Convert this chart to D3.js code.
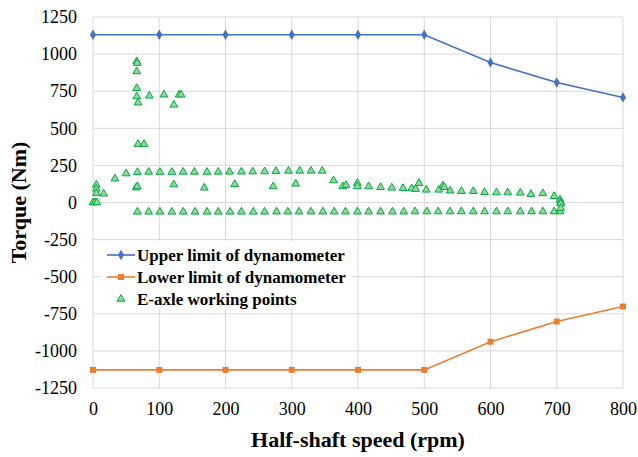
<!DOCTYPE html>
<html>
<head>
<meta charset="utf-8">
<script src="https://cdn.jsdelivr.net/npm/d3@7/dist/d3.min.js"></script>
<style>
  html, body { margin: 0; padding: 0; background: #fff; }
  svg { display: block; }
  svg text { font-family: "Liberation Serif", "Times New Roman", serif !important; }
</style>
</head>
<body>
<svg id="chart" width="638" height="457"></svg>
<script>
// ---- data ----
const limitSpeeds = [0, 100, 200, 300, 400, 500, 600, 700, 800];
const upperLimit = [1130, 1130, 1130, 1130, 1130, 1130, 943, 808, 707];
const lowerLimit = [-1128, -1128, -1128, -1128, -1128, -1128, -938, -802, -701];

const pointSpeeds = [
  0, 3, 6, 5, 5, 5, 16, 33, 50,
  67, 84, 101, 119, 136, 153, 172, 189, 206, 224, 241, 259, 276, 295, 312, 329, 346,
  363, 377, 382, 399, 399, 416, 434, 451, 468, 481, 487, 492, 503, 522, 528, 530, 539,
  556, 574, 591, 609, 626, 645, 661, 679, 696, 705, 706, 706,
  65, 67, 122, 168, 214, 272, 306,
  66, 67, 66, 66, 66, 85, 68, 107, 130, 133, 122, 68, 77,
  67, 84, 101, 119, 136, 154, 172, 189, 207, 224, 242, 259, 277, 294, 311, 329, 347,
  364, 381, 399, 416, 434, 452, 469, 486, 504, 521, 539, 556, 574, 591, 609, 626, 645,
  662, 679, 696, 705, 706
];
const pointTorques = [
  0, 0, 0, 119, 92, 63, 59, 160, 195,
  204, 206, 205, 205, 206, 206, 205, 206, 207, 207, 208, 209, 211, 213, 213, 213, 213,
  148, 108, 117, 130, 108, 108, 103, 99, 96, 94, 90, 130, 85, 85, 114, 103, 79,
  76, 76, 69, 67, 67, 65, 56, 61, 42, 18, 3, -8,
  100, 108, 121, 99, 123, 108, 126,
  950, 939, 883, 770, 714, 719, 672, 726, 726, 726, 658, 393, 393,
  -63, -63, -63, -63, -63, -63, -63, -63, -63, -63, -63, -63, -62, -62, -62, -62, -62,
  -62, -62, -62, -62, -62, -62, -62, -61, -61, -61, -61, -61, -61, -61, -61, -61, -61,
  -61, -61, -61, -61, -38
];

const xTicks = [0, 100, 200, 300, 400, 500, 600, 700, 800];
const yTicks = [-1250, -1000, -750, -500, -250, 0, 250, 500, 750, 1000, 1250];

const seriesNames = ["Upper limit of dynamometer", "Lower limit of dynamometer", "E-axle working points"];
const seriesColors = ["#4472C4", "#ED7D31", "#00B050"];

// ---- layout ----
const W = 638, H = 457;
const margin = { top: 17, right: 15, bottom: 69, left: 93 };
const iw = W - margin.left - margin.right;
const ih = H - margin.top - margin.bottom;
const SERIF = '"Liberation Serif", "Times New Roman", serif';

const svg = d3.select("#chart");
const g = svg.append("g").attr("transform", `translate(${margin.left},${margin.top})`);

const x = d3.scaleLinear().domain([0, 800]).range([0, iw]);
const y = d3.scaleLinear().domain([-1250, 1250]).range([ih, 0]);

// gridlines
g.append("g").selectAll("line").data(yTicks).join("line")
  .attr("x1", 0).attr("x2", iw)
  .attr("y1", d => y(d)).attr("y2", d => y(d))
  .attr("stroke", "#d9d9d9").attr("stroke-width", 1);
g.append("g").selectAll("line").data(xTicks).join("line")
  .attr("y1", 0).attr("y2", ih)
  .attr("x1", d => x(d)).attr("x2", d => x(d))
  .attr("stroke", "#d9d9d9").attr("stroke-width", 1);

// axes (labels only)
const fmt = d => String(d);
const xAxis = g.append("g").attr("transform", `translate(0,${ih})`)
  .call(d3.axisBottom(x).tickValues(xTicks).tickSize(0).tickPadding(14).tickFormat(fmt));
xAxis.attr("font-family", null);
xAxis.select(".domain").remove();
xAxis.selectAll("text").attr("font-size", 18).attr("fill", "#000").style("font-family", SERIF);

const yAxis = g.append("g")
  .call(d3.axisLeft(y).tickValues(yTicks).tickSize(0).tickPadding(16).tickFormat(fmt));
yAxis.attr("font-family", null);
yAxis.select(".domain").remove();
yAxis.selectAll("text").attr("font-size", 18).attr("fill", "#000").style("font-family", SERIF);

// axis titles
svg.append("text")
  .attr("x", margin.left + iw / 2).attr("y", 447)
  .attr("text-anchor", "middle").attr("font-weight", "bold").attr("font-size", 22)
  .style("font-family", SERIF)
  .text("Half-shaft speed (rpm)");
svg.append("text")
  .attr("transform", `translate(26,${margin.top + ih / 2}) rotate(-90)`)
  .attr("text-anchor", "middle").attr("font-weight", "bold").attr("font-size", 22)
  .style("font-family", SERIF)
  .text("Torque (Nm)");

// lines
const line = d3.line().x(d => x(d[0])).y(d => y(d[1]));
const upperData = limitSpeeds.map((s, i) => [s, upperLimit[i]]);
const lowerData = limitSpeeds.map((s, i) => [s, lowerLimit[i]]);

g.append("path").datum(upperData).attr("d", line)
  .attr("fill", "none").attr("stroke", seriesColors[0]).attr("stroke-width", 1.6);
g.append("path").datum(lowerData).attr("d", line)
  .attr("fill", "none").attr("stroke", seriesColors[1]).attr("stroke-width", 1.6);

const diamond = d3.symbol().type(d3.symbolDiamond).size(32);
const square = d3.symbol().type(d3.symbolSquare).size(36);
const tri = d3.symbol().type(d3.symbolTriangle).size(26);

g.append("g").selectAll("path").data(upperData).join("path")
  .attr("d", diamond).attr("transform", d => `translate(${x(d[0])},${y(d[1])})`)
  .attr("fill", seriesColors[0]);
g.append("g").selectAll("path").data(lowerData).join("path")
  .attr("d", square).attr("transform", d => `translate(${x(d[0])},${y(d[1])})`)
  .attr("fill", seriesColors[1]);

const pts = pointSpeeds.map((s, i) => [s, pointTorques[i]]);
g.append("g").selectAll("path").data(pts).join("path")
  .attr("d", tri).attr("transform", d => `translate(${x(d[0])},${y(d[1])})`)
  .attr("fill", "#92d992").attr("stroke", "#00A84A").attr("stroke-width", 1);

// legend
const lg = svg.append("g").attr("transform", "translate(100,241)");
lg.append("rect").attr("x", 0).attr("y", 0).attr("width", 252).attr("height", 68).attr("fill", "#fff");
const rows = [14, 36, 58];
rows.forEach((ry, i) => {
  if (i < 2) {
    lg.append("line").attr("x1", 7).attr("x2", 35).attr("y1", ry).attr("y2", ry)
      .attr("stroke", seriesColors[i]).attr("stroke-width", 1.6);
    lg.append("path").attr("d", i === 0 ? diamond : square)
      .attr("transform", `translate(21,${ry})`).attr("fill", seriesColors[i]);
  } else {
    lg.append("path").attr("d", tri).attr("transform", `translate(21,${ry})`)
      .attr("fill", "#92d992").attr("stroke", "#00A84A").attr("stroke-width", 1);
  }
  lg.append("text").attr("x", 37).attr("y", ry).attr("dy", "0.35em")
    .attr("font-size", 17).attr("font-weight", "bold").style("font-family", SERIF)
    .text(seriesNames[i]);
});
</script>
</body>
</html>
